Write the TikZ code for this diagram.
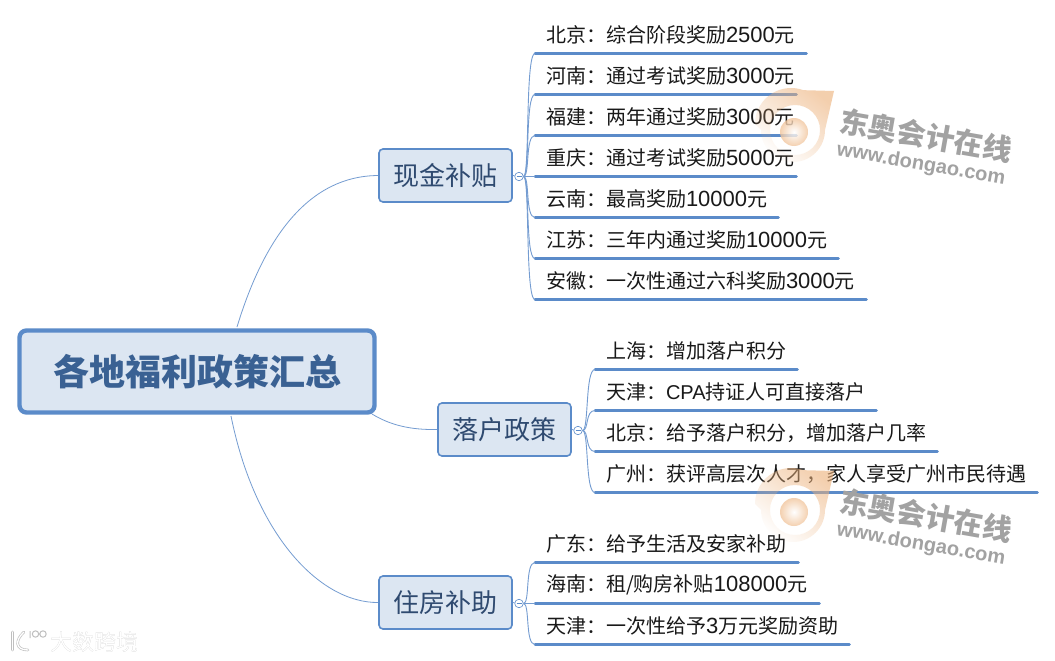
\documentclass[tikz,border=0pt]{standalone}
\usepackage{fontspec}
\setmainfont{Noto Sans CJK SC}
\newfontfamily\latfont{Liberation Sans}
\usetikzlibrary{fadings}
\definecolor{mmblue}{HTML}{5B8BC9}
\definecolor{mmfill}{HTML}{DCE6F2}
\definecolor{mmtext}{HTML}{2F4A70}
\definecolor{roottext}{HTML}{3A6193}
\definecolor{wmorange}{HTML}{EDB27C}
\definecolor{wmgray}{HTML}{A2A2A2}
\newcommand{\lat}[1]{{\latfont\fontsize{22}{24}\selectfont #1}}
\tikzfading[name=wmfade,top color=transparent!0,middle color=transparent!0,bottom color=transparent!100]
\tikzset{
  x=1pt,y=-1pt,
  rootbox/.style={draw=mmblue,line width=4.4pt,fill=mmfill,rounded corners=7pt,minimum width=355pt,minimum height=82pt,inner sep=0pt,text=roottext,font=\fontsize{36}{40}\selectfont\bfseries},
  topicbox/.style={draw=mmblue,line width=1.6pt,fill=mmfill,rounded corners=4pt,minimum width=133pt,minimum height=53pt,inner sep=0pt,text=mmtext,font=\fontsize{26}{30}\selectfont},
  leafbox/.style={anchor=south west,inner sep=0pt,minimum height=36pt,align=left,font=\fontsize{20}{24}\selectfont,text=black!90},
  leafline/.style={draw=mmblue,line width=3pt},
  forkline/.style={draw=mmblue!85,line width=0.9pt},
  mainline/.style={draw=mmblue!85,line width=0.8pt},
  togglemark/.style={circle,draw=mmblue,fill=white,line width=0.6pt,minimum size=8.5pt,inner sep=0pt},
  marktick/.style={draw=mmblue,line width=0.6pt},
}
\newcommand{\leaf}[5]{%
  \node[leafbox,text width=#4pt] (#1) at (#2,#3) {\hspace{10.8pt}#5};
  \draw[leafline,line cap=round] (#1.south west) -- (#1.south east);
}
\newcommand{\fork}[2]{%
  \draw[forkline] (#1) .. controls +(11,0) and ([xshift=-10pt]#2.south west) .. (#2.south west);
}
\newcommand{\watermark}[1]{%
  \begin{scope}[yshift=#1pt]
    \fill[wmorange,opacity=.62,even odd rule,path fading=wmfade,fading angle=-40]
      (755,124) arc[start angle=180,end angle=290,radius=36] -- (834,91) -- (825,130)
      arc[start angle=0,end angle=180,radius=32] -- cycle
      (795,130) circle (25);
    \shade[inner color=white,outer color=wmorange!75,opacity=.8] (794,132) circle (14);
    \node[rotate=-10,text=wmgray,font=\fontsize{29}{30}\selectfont\bfseries] at (926,135.5) {东奥会计在线};
    \node[rotate=-10,text=wmgray,font=\latfont\fontsize{20}{22}\selectfont\bfseries] at (921,165) {www.dongao.com};
  \end{scope}
}
\begin{document}
\begin{tikzpicture}
\useasboundingbox[fill=white] (0,0) rectangle (1055,661);

\node[rootbox] (root) at (197,371.5) {各地福利政策汇总};
\node[topicbox] (t1) at (445.5,175.5) {现金补贴};
\node[topicbox] (t2) at (504.5,429.5) {落户政策};
\node[topicbox] (t3) at (445.5,602.5) {住房补助};

\draw[mainline] (237,327) .. controls (265,235) and (310,176) .. (t1.west);
\draw[mainline] (372,414) .. controls (390,425) and (410,430) .. (t2.west);
\draw[mainline] (231,416) .. controls (255,535) and (320,603) .. (t3.west);

\node[togglemark] (c1) at (519,176.5) {};
\node[togglemark] (c2) at (578,430.5) {};
\node[togglemark] (c3) at (519,603.5) {};
\draw[mainline] (t1.east) -- (c1);
\draw[mainline] (t2.east) -- (c2);
\draw[mainline] (t3.east) -- (c3);
\draw[marktick] (516.5,176.5) -- (521.5,176.5);
\draw[marktick] (575.5,430.5) -- (580.5,430.5);
\draw[marktick] (516.5,603.5) -- (521.5,603.5);

\leaf{a1}{535}{53.5}{271}{北京：综合阶段奖励\lat{2500}元}
\leaf{a2}{535}{94.5}{261}{河南：通过考试奖励\lat{3000}元}
\leaf{a3}{535}{135.5}{261}{福建：两年通过奖励\lat{3000}元}
\leaf{a4}{535}{176.5}{261}{重庆：通过考试奖励\lat{5000}元}
\leaf{a5}{535}{217.5}{243}{云南：最高奖励\lat{10000}元}
\leaf{a6}{535}{258.5}{303}{江苏：三年内通过奖励\lat{10000}元}
\leaf{a7}{535}{299.5}{331}{安徽：一次性通过六科奖励\lat{3000}元}

\leaf{b1}{595}{369.5}{202}{上海：增加落户积分}
\leaf{b2}{595}{410.5}{281}{天津：{\latfont\fontsize{20}{24}\selectfont CPA}持证人可直接落户}
\leaf{b3}{595}{451.5}{342}{北京：给予落户积分，增加落户几率}
\leaf{b4}{595}{492.5}{442}{广州：获评高层次人才，家人享受广州市民待遇}

\leaf{d1}{535}{562.5}{263}{广东：给予生活及安家补助}
\leaf{d2}{535}{603.5}{284}{海南：租/购房补贴\lat{108000}元}
\leaf{d3}{535}{644.5}{314}{天津：一次性给予\lat{3}万元奖励资助}

\foreach \l in {a1,a2,a3,a4,a5,a6,a7}{\fork{c1}{\l}}
\foreach \l in {b1,b2,b3,b4}{\fork{c2}{\l}}
\foreach \l in {d1,d2,d3}{\fork{c3}{\l}}

\watermark{0}
\watermark{-380}

% bottom-left mark
\begin{scope}
  \draw[black!25,line width=2.6pt,line cap=round] (12.5,632) -- (12.5,650);
  \draw[black!25,line width=2.6pt,line cap=round] (24,632) .. controls (15,640) and (15,650) .. (28,650);
  \draw[black!25,line width=1pt] (30,631) -- (30,638) (35.5,634) circle (3.2) (43,634) circle (3.2);
  \draw[white,line width=1.3pt,line cap=round] (12.5,632) -- (12.5,650);
  \draw[white,line width=1.3pt,line cap=round] (24,632) .. controls (15,640) and (15,650) .. (28,650);
  \node[text=black!28,font=\fontsize{22}{24}\selectfont] at (94.6,642.6) {大数跨境};
  \node[text=white,font=\fontsize{22}{24}\selectfont] at (94,642) {大数跨境};
\end{scope}
\end{tikzpicture}
\end{document}
